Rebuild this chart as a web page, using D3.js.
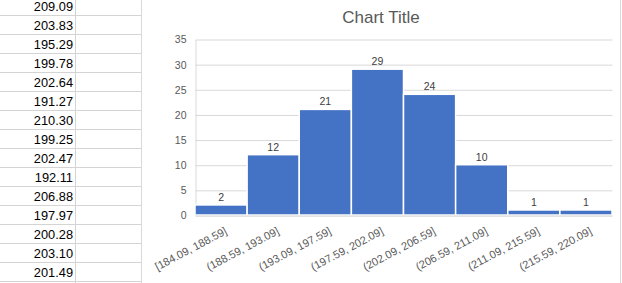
<!DOCTYPE html>
<html>
<head>
<meta charset="utf-8">
<script src="https://d3js.org/d3.v7.min.js"></script>
<style>
  body { margin: 0; background: #fff; }
  svg { display: block; font-family: "Liberation Sans", Arial, sans-serif; }
</style>
</head>
<body>
<div id="chart"></div>
<script>
// sheet cells visible left of the chart
var cellValues = ["209.09", "203.83", "195.29", "199.78", "202.64", "191.27", "210.30", "199.25",
                  "202.47", "192.11", "206.88", "197.97", "200.28", "203.10", "201.49"];

// histogram bins and counts
var bins = ["[184.09, 188.59]", "(188.59, 193.09]", "(193.09, 197.59]", "(197.59, 202.09]",
            "(202.09, 206.59]", "(206.59, 211.09]", "(211.09, 215.59]", "(215.59, 220.09]"];
var counts = [2, 12, 21, 29, 24, 10, 1, 1];
var yTicks = [0, 5, 10, 15, 20, 25, 30, 35];

var W = 622, H = 283;
var svg = d3.select("#chart").append("svg")
    .attr("width", W)
    .attr("height", H);

svg.append("rect").attr("width", W).attr("height", H).attr("fill", "#fff");

// ---- spreadsheet behind ----
var rowH = 19;
var rows = d3.range(cellValues.length);
var rowY = d3.scaleLinear().domain([0, 1]).range([-4, -4 + rowH]);

var sheet = svg.append("g").attr("class", "sheet");
sheet.selectAll("line.row")
    .data(rows)
  .enter().append("line")
    .attr("class", "row")
    .attr("x1", 0).attr("x2", 142)
    .attr("y1", function(d) { return Math.round(rowY(d + 1)) + 0.5; })
    .attr("y2", function(d) { return Math.round(rowY(d + 1)) + 0.5; })
    .attr("stroke", "#d4d4d4");
sheet.append("line")
    .attr("x1", 75.5).attr("x2", 75.5).attr("y1", 0).attr("y2", H)
    .attr("stroke", "#d4d4d4");
sheet.selectAll("text")
    .data(cellValues)
  .enter().append("text")
    .attr("x", 73)
    .attr("y", function(d, i) { return rowY(i + 1) - 4; })
    .attr("text-anchor", "end")
    .attr("font-size", "12.8px")
    .attr("fill", "#000")
    .text(function(d) { return d; });

// ---- chart object ----
var chart = svg.append("g").attr("class", "chart-area");
chart.append("rect")
    .attr("x", 141.5).attr("y", -2).attr("width", 479).attr("height", H + 4)
    .attr("fill", "#fff")
    .attr("stroke", "#d9d9d9");

chart.append("text")
    .attr("x", 381)
    .attr("y", 22.7)
    .attr("text-anchor", "middle")
    .attr("font-size", "17px")
    .attr("fill", "#595959")
    .text("Chart Title");

var plot = { left: 195, right: 612, top: 39, bottom: 215 };

var x = d3.scaleBand()
    .domain(bins)
    .range([plot.left, plot.right])
    .paddingInner(0)
    .paddingOuter(0);

var y = d3.scaleLinear()
    .domain([0, 35])
    .range([plot.bottom, plot.top]);

// y axis with gridlines
var yAxis = d3.axisLeft(y)
    .tickValues(yTicks)
    .tickSize(-(plot.right - plot.left))
    .tickSizeOuter(0)
    .tickPadding(9);

var gy = chart.append("g")
    .attr("transform", "translate(" + (plot.left + 0.5) + ",0.5)")
    .call(yAxis);
gy.select(".domain").attr("stroke", "#d9d9d9");
gy.selectAll(".tick line").attr("stroke", "#d9d9d9");
gy.selectAll(".tick text")
    .attr("font-family", "Liberation Sans, Arial, sans-serif")
    .attr("font-size", "10.5px")
    .attr("fill", "#595959");

// bars
chart.selectAll("rect.bar")
    .data(counts)
  .enter().append("rect")
    .attr("class", "bar")
    .attr("x", function(d, i) { return x(bins[i]); })
    .attr("y", function(d) { return y(d); })
    .attr("width", x.bandwidth())
    .attr("height", function(d) { return y(0) - y(d); })
    .attr("fill", "#4472c4")
    .attr("stroke", "#fff")
    .attr("stroke-width", 1.5);

// data labels
chart.selectAll("text.lbl")
    .data(counts)
  .enter().append("text")
    .attr("class", "lbl")
    .attr("x", function(d, i) { return x(bins[i]) + x.bandwidth() / 2; })
    .attr("y", function(d) { return y(d) - 4; })
    .attr("text-anchor", "middle")
    .attr("font-size", "10.5px")
    .attr("fill", "#404040")
    .text(function(d) { return d; });

// x axis, labels tilted like excel does
var xAxis = d3.axisBottom(x).tickSize(0).tickSizeOuter(0);
var gx = chart.append("g")
    .attr("transform", "translate(0," + (plot.bottom + 0.5) + ")")
    .call(xAxis);
gx.select(".domain").attr("stroke", "#d9d9d9");
gx.selectAll(".tick text")
    .attr("font-family", "Liberation Sans, Arial, sans-serif")
    .attr("font-size", "11px")
    .attr("fill", "#595959")
    .attr("text-anchor", "end")
    .attr("y", 0)
    .attr("dy", "0.71em")
    .attr("transform", "translate(3,11) rotate(-28)");
</script>
</body>
</html>
